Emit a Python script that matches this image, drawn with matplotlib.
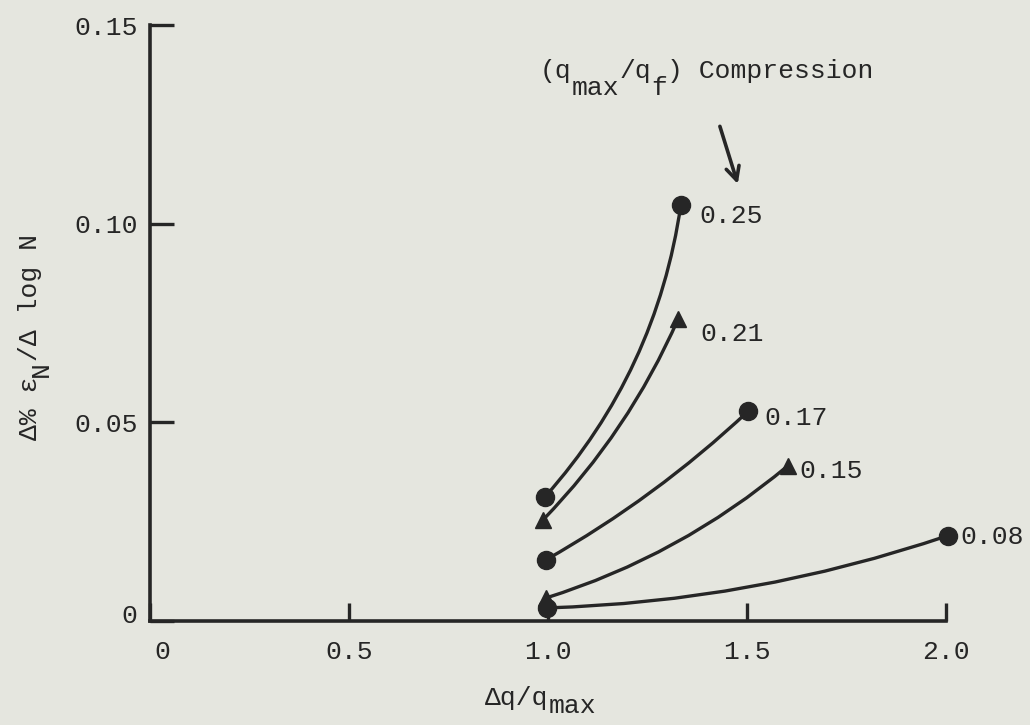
import matplotlib.pyplot as plt
from matplotlib.transforms import ScaledTranslation

plt.rcParams['font.family'] = ['Liberation Mono', 'DejaVu Sans']

# values
ratios = ['0.25', '0.21', '0.17', '0.15', '0.08']
markers = ['o', '^', 'o', '^', 'o']
x_start = [0.993, 0.988, 0.995, 0.995, 0.997]
y_start = [0.0313, 0.0255, 0.0154, 0.0058, 0.0033]
x_end = [1.334, 1.327, 1.503, 1.603, 2.005]
y_end = [0.1048, 0.0760, 0.0528, 0.0391, 0.0215]
bend = [0.15, 0.09, 0.06, 0.10, 0.075]
label_off = [(13, -8), (16, -11), (12, -5), (8, -4), (9, -1)]

xticks = [0, 0.5, 1.0, 1.5, 2.0]
xtick_labels = ['0', '0.5', '1.0', '1.5', '2.0']
yticks = [0, 0.05, 0.10, 0.15]
ytick_labels = ['0', '0.05', '0.10', '0.15']

# typewritten texts: (piece, column, lowered?)
note_parts = [('(q', 0, False), ('max', 2, True), ('/q', 5, False),
              ('f', 7, True), (') Compression', 8, False)]
xlabel_parts = [('\u0394q/q', 0, False), ('max', 4, True)]
ylabel_parts = [('\u0394% \u03b5', 0, False), ('N', 4, True),
                ('/\u0394 log N', 5, False)]

ink = '#262626'
paper = '#e5e6df'
fs = 19
pitch = 0.6 * fs  # monospaced advance, points

fig = plt.figure(figsize=(10.3, 7.25), dpi=100, facecolor=paper)
ax = fig.add_axes([0.1456, 0.1434, 0.7728, 0.8221])
ax.set_facecolor(paper)


def typewrite(parts, xy, coords, drop, rotation=0):
    for txt, col, low in parts:
        d = drop if low else 0
        if rotation == 90:
            off = (d, col * pitch)
        else:
            off = (col * pitch, -d)
        ax.annotate(txt, xy=xy, xycoords=coords, xytext=off,
                    textcoords='offset points', fontsize=fs, color=ink,
                    ha='left', va='baseline', rotation=rotation,
                    rotation_mode='anchor', annotation_clip=False)


for i in range(len(ratios)):
    ax.annotate('', xy=(x_end[i], y_end[i]), xytext=(x_start[i], y_start[i]),
                arrowprops=dict(arrowstyle='-', connectionstyle='arc3,rad=%s' % bend[i],
                                lw=2.4, color=ink, shrinkA=0, shrinkB=0),
                annotation_clip=False)
    ms = 13 if markers[i] == 'o' else 11
    ax.plot([x_start[i], x_end[i]], [y_start[i], y_end[i]], ls='none',
            marker=markers[i], ms=ms, color=ink, clip_on=False, zorder=3)
    ax.annotate(ratios[i], xy=(x_end[i], y_end[i]), xytext=label_off[i],
                textcoords='offset points', ha='left', va='center',
                fontsize=fs, color=ink, annotation_clip=False)

# note and pointer
typewrite(note_parts, (0.98, 0.1366), 'data', 12)
ax.annotate('', xy=(1.477, 0.1100), xytext=(1.432, 0.1245),
            arrowprops=dict(arrowstyle='->', lw=2.6, color=ink, mutation_scale=24,
                            shrinkA=0, shrinkB=0))

# axis titles
typewrite(xlabel_parts, (0.421, -0.141), 'axes fraction', 6)
typewrite(ylabel_parts, (-0.142, 0.304), 'axes fraction', 8, rotation=90)

ax.set_xlim(0, 2.0)
ax.set_ylim(0, 0.15)
ax.set_xticks(xticks)
ax.set_xticklabels(xtick_labels)
ax.set_yticks(yticks)
ax.set_yticklabels(ytick_labels)

for s in ['top', 'right']:
    ax.spines[s].set_visible(False)
for s in ['left', 'bottom']:
    ax.spines[s].set_linewidth(2.6)
    ax.spines[s].set_color(ink)

ax.tick_params(axis='x', direction='in', length=13, width=2.4, pad=14,
               labelsize=fs, colors=ink)
ax.tick_params(axis='y', direction='in', length=17, width=2.4, pad=9,
               labelsize=fs, colors=ink)

# the typed zeros sit a little off their ticks in the original
xl0 = ax.get_xticklabels()[0]
xl0.set_transform(xl0.get_transform() + ScaledTranslation(0.12, 0, fig.dpi_scale_trans))
yl0 = ax.get_yticklabels()[0]
yl0.set_transform(yl0.get_transform() + ScaledTranslation(0, 0.08, fig.dpi_scale_trans))

fig.savefig('out.png', dpi=100, facecolor=paper)
